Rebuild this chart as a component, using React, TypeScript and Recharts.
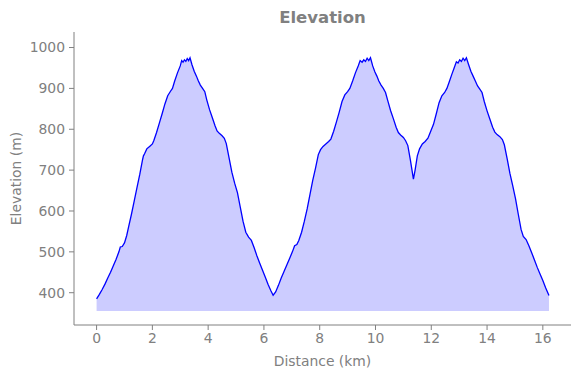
import React from 'react';
import { AreaChart, Area, XAxis, YAxis } from 'recharts';

// distance along the track (km)
const distances = [
    0.0, 0.1, 0.2, 0.3, 0.4, 0.5, 0.6, 0.7, 0.8, 0.85, 0.92, 1.0, 1.08, 1.15, 1.25, 1.35, 1.45, 1.55, 1.65, 1.68,
    1.72, 1.8, 1.9, 2.0, 2.05, 2.15, 2.25, 2.35, 2.45, 2.55, 2.65, 2.72, 2.8, 2.9, 3.0, 3.05, 3.1, 3.15, 3.2, 3.25,
    3.3, 3.35, 3.42, 3.5, 3.58, 3.65, 3.72, 3.8, 3.88, 3.95, 4.05, 4.15, 4.25, 4.32, 4.4, 4.5, 4.58, 4.65, 4.75, 4.85,
    4.95, 5.05, 5.15, 5.25, 5.35, 5.45, 5.55, 5.65, 5.75, 5.85, 5.95, 6.05, 6.15, 6.25, 6.33, 6.42, 6.52, 6.62, 6.72, 6.82,
    6.92, 7.02, 7.1, 7.18, 7.25, 7.35, 7.45, 7.55, 7.65, 7.75, 7.85, 7.95, 8.03, 8.12, 8.22, 8.32, 8.4, 8.5, 8.6, 8.7,
    8.8, 8.9, 9.0, 9.08, 9.18, 9.28, 9.38, 9.45, 9.52, 9.58, 9.64, 9.7, 9.76, 9.82, 9.9, 9.98, 10.05, 10.12, 10.2, 10.28,
    10.36, 10.44, 10.54, 10.64, 10.74, 10.82, 10.9, 11.0, 11.08, 11.16, 11.25, 11.32, 11.36, 11.42, 11.5, 11.58, 11.68, 11.78, 11.88, 11.98,
    12.08, 12.18, 12.28, 12.38, 12.48, 12.56, 12.64, 12.74, 12.82, 12.9, 12.96, 13.02, 13.08, 13.14, 13.2, 13.26, 13.34, 13.42, 13.5, 13.58,
    13.66, 13.74, 13.82, 13.9, 14.0, 14.1, 14.2, 14.28, 14.36, 14.46, 14.55, 14.62, 14.72, 14.82, 14.92, 15.02, 15.12, 15.22, 15.3, 15.4,
    15.5, 15.6, 15.7, 15.8, 15.9, 16.0, 16.1, 16.22,
];

// elevation (m)
const elevations = [
    385, 396, 408, 421, 436, 450, 466, 482, 500, 512, 513, 522, 540, 562, 592, 625, 658, 690, 726, 735,
    740, 752, 758, 764, 772, 792, 815, 838, 862, 882, 893, 900, 918, 938, 955, 968, 964, 970, 966, 973,
    968, 975, 958, 942, 930, 918, 908, 900, 892, 872, 848, 828, 808, 796, 790, 784, 778, 765, 730, 695,
    668, 645, 610, 575, 548, 536, 528, 510, 490, 472, 455, 438, 420, 405, 394, 402, 418, 436, 452, 468,
    484, 500, 515, 518, 528, 548, 575, 605, 640, 675, 705, 738, 750, 758, 764, 770, 776, 795, 818, 842,
    868, 884, 892, 900, 918, 938, 955, 968, 964, 970, 966, 974, 968, 975, 955, 940, 930, 918, 908, 900,
    890, 870, 846, 826, 805, 792, 786, 780, 772, 760, 725, 695, 678, 700, 735, 752, 764, 770, 778, 795,
    812, 838, 865, 882, 890, 900, 915, 935, 950, 965, 962, 970, 966, 974, 968, 975, 958, 942, 930, 918,
    906, 898, 890, 868, 845, 825, 805, 793, 787, 782, 775, 762, 728, 692, 662, 630, 592, 555, 538, 530,
    515, 498, 480, 462, 446, 430, 412, 393,
];

const xTicks = [0, 2, 4, 6, 8, 10, 12, 14, 16];
const yTicks = [400, 500, 600, 700, 800, 900, 1000];
const fillBase = 355;

const data = distances.map((d, i) => ({ dist: d, elev: elevations[i] }));

const GREY = '#808080';
const FONT = '"DejaVu Sans", sans-serif';

const YLabel = ({ viewBox }: any) => {
    const cy = viewBox.y + viewBox.height / 2;
    return (
        <text
            x={16}
            y={cy}
            transform={`rotate(-90, 16, ${cy})`}
            textAnchor="middle"
            dominantBaseline="central"
            fill={GREY}
            fontSize={13.9}
            fontFamily={FONT}
        >
            Elevation (m)
        </text>
    );
};

const XLabel = ({ viewBox }: any) => {
    const cx = viewBox.x + viewBox.width / 2;
    return (
        <text
            x={cx}
            y={361}
            textAnchor="middle"
            dominantBaseline="central"
            fill={GREY}
            fontSize={13.9}
            fontFamily={FONT}
        >
            Distance (km)
        </text>
    );
};

export default function App() {
    return (
        <div style={{ position: 'absolute', left: 0, top: 0, width: 580, height: 378, background: '#fff' }}>
            <div
                style={{
                    position: 'absolute',
                    left: 74,
                    width: 497,
                    top: 7,
                    textAlign: 'center',
                    fontFamily: FONT,
                    fontWeight: 'bold',
                    fontSize: 16.5,
                    color: GREY,
                    lineHeight: '22px',
                }}
            >
                Elevation
            </div>
            <AreaChart
                width={580}
                height={378}
                data={data}
                margin={{ top: 32, right: 9, left: 0, bottom: 0 }}
            >
                <XAxis
                    dataKey="dist"
                    type="number"
                    domain={[-0.81, 17.01]}
                    ticks={xTicks}
                    allowDataOverflow
                    height={53}
                    tickSize={5}
                    tickMargin={3}
                    stroke={GREY}
                    tick={{ fill: GREY, fontSize: 13.9, fontFamily: FONT }}
                    label={<XLabel />}
                />
                <YAxis
                    type="number"
                    domain={[321, 1038]}
                    ticks={yTicks}
                    allowDataOverflow
                    width={74}
                    tickSize={5}
                    tickMargin={4}
                    stroke={GREY}
                    tick={{ fill: GREY, fontSize: 13.9, fontFamily: FONT }}
                    label={<YLabel />}
                />
                <Area
                    type="linear"
                    dataKey="elev"
                    baseValue={fillBase}
                    stroke="#0000ff"
                    strokeWidth={1.3}
                    fill="#ccccff"
                    fillOpacity={1}
                    dot={false}
                    activeDot={false}
                    isAnimationActive={false}
                />
            </AreaChart>
        </div>
    );
}
